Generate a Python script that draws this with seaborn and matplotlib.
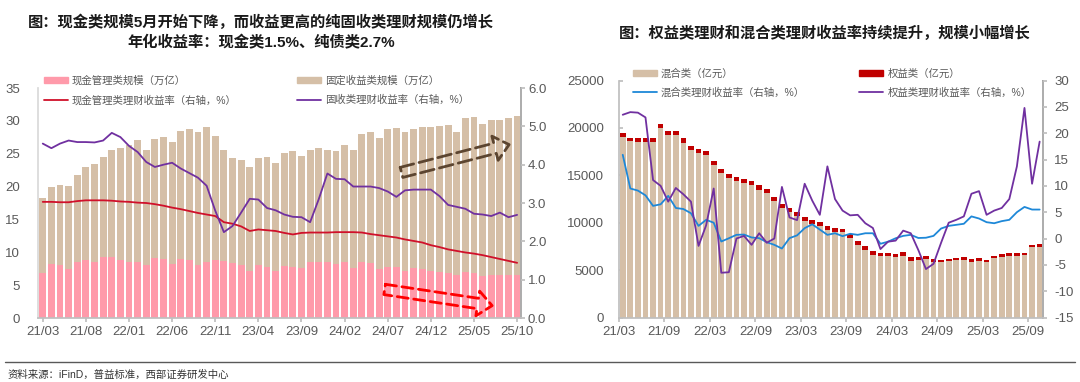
import numpy as np
import pandas as pd
import matplotlib
matplotlib.use("Agg")
import matplotlib.pyplot as plt
import seaborn as sns
from matplotlib.patches import Patch, FancyArrowPatch
from matplotlib.lines import Line2D

# 月份 21/03 - 25/10
months = pd.period_range("2021-03", "2025-10", freq="M").strftime("%y/%m").tolist()

# 左图：规模（万亿）与收益率（%）
cash_scale = [6.8, 8.2, 8.1, 7.4, 8.5, 8.9, 8.6, 9.3, 9.3, 8.8, 8.6, 8.6, 8.1, 9.2, 9.0, 8.2,
              9.0, 8.8, 8.1, 8.6, 8.9, 8.7, 8.3, 8.1, 7.2, 8.0, 7.7, 7.1, 7.9, 7.8, 7.6, 8.6,
              8.6, 8.5, 8.2, 8.5, 7.6, 8.6, 8.3, 7.4, 7.7, 7.7, 7.2, 7.6, 7.5, 7.2, 7.0, 6.9,
              6.6, 7.0, 6.9, 6.4, 6.5, 6.5, 6.5, 6.6]
fixed_scale = [18.2, 20.0, 20.2, 20.1, 21.8, 23.0, 23.4, 24.5, 25.5, 25.8, 26.4, 27.1, 25.6, 27.3,
               27.5, 26.8, 28.4, 28.8, 28.3, 29.1, 27.7, 25.5, 24.4, 24.1, 23.0, 24.4, 24.5, 23.6,
               25.1, 25.4, 24.6, 25.5, 25.8, 25.5, 25.4, 26.3, 25.5, 28.0, 28.3, 27.4, 28.8, 28.9,
               28.3, 28.8, 29.1, 29.0, 29.2, 29.4, 28.3, 30.4, 30.6, 29.5, 30.1, 30.2, 30.5, 30.8]
cash_yield = [3.03, 3.03, 3.02, 3.02, 3.05, 3.07, 3.07, 3.07, 3.06, 3.04, 3.03, 3.01, 3.00, 2.97,
              2.93, 2.88, 2.84, 2.79, 2.74, 2.70, 2.66, 2.50, 2.46, 2.39, 2.27, 2.31, 2.29, 2.27,
              2.22, 2.18, 2.22, 2.23, 2.23, 2.23, 2.24, 2.24, 2.24, 2.23, 2.19, 2.16, 2.13, 2.10,
              2.05, 2.01, 1.97, 1.90, 1.85, 1.79, 1.75, 1.71, 1.68, 1.64, 1.59, 1.54, 1.49, 1.44]
fixed_yield = [4.55, 4.43, 4.55, 4.63, 4.59, 4.59, 4.58, 4.63, 4.83, 4.72, 4.49, 4.33, 4.07, 3.94,
               4.00, 4.05, 3.90, 3.78, 3.66, 3.45, 2.80, 2.24, 2.40, 2.75, 3.11, 3.09, 2.87, 2.81,
               2.70, 2.64, 2.63, 2.50, 3.10, 3.77, 3.63, 3.62, 3.43, 3.43, 3.43, 3.39, 3.30, 3.16,
               3.33, 3.35, 3.35, 3.35, 3.18, 2.95, 2.90, 2.85, 2.72, 2.70, 2.66, 2.75, 2.63, 2.69]

# 右图：规模（亿元）与收益率（%）
mixed_scale = [19010, 18590, 18480, 18480, 18480, 19990, 19290, 19290, 18450, 17710, 17390, 17180,
               16090, 15220, 14690, 14440, 14230, 13990, 13500, 13150, 12300, 11530, 11140, 10720,
               10130, 9850, 9640, 9210, 9070, 8970, 8340, 7630, 7110, 6620, 6510, 6480, 6400, 6510,
               5990, 6060, 6200, 5840, 5840, 5920, 6020, 6090, 5840, 5990, 5810, 6230, 6410, 6510,
               6510, 6550, 7420, 7490]
equity_scale = [450, 390, 420, 420, 450, 450, 420, 420, 450, 420, 420, 420, 420, 420, 420, 420,
                420, 420, 450, 420, 420, 420, 420, 420, 450, 420, 420, 420, 420, 350, 420, 390,
                390, 350, 320, 330, 350, 350, 420, 350, 280, 320, 250, 250, 250, 280, 350, 280,
                280, 280, 280, 280, 280, 280, 250, 250]
mixed_yield = [15.9, 9.5, 9.1, 8.2, 6.2, 6.5, 8.1, 5.8, 5.6, 4.8, 2.4, 3.55, 3.0, -0.57, 0.05, 0.7,
               0.75, 0.2, 0.07, -0.7, -1.2, -1.9, 0.07, 0.6, 1.97, 2.7, 1.7, 0.7, 1.0, 0.45, 0.9,
               0.7, 1.0, 1.0, -1.0, -0.6, 0.05, 0.5, 0.7, 0.1, 0.15, 0.5, 1.9, 2.4, 2.6, 2.8, 4.2,
               3.8, 3.1, 2.9, 3.3, 3.55, 5.0, 6.0, 5.5, 5.5]
equity_yield = [23.5, 24.0, 23.9, 23.0, 11.1, 10.0, 7.0, 9.6, 8.4, 7.0, -1.4, 2.5, 9.5, -6.5, -6.4,
                0.0, 0.5, -1.2, 1.0, -0.8, 0.0, 9.8, 4.0, 3.5, 10.4, 7.2, 4.5, 13.7, 7.5, 5.3, 4.4,
                4.5, 2.9, 2.0, -2.0, -0.6, -0.4, 1.5, 1.0, -2.2, -5.8, -4.8, -0.8, 3.0, 3.55, 4.2,
                8.5, 9.0, 4.5, 5.3, 5.8, 7.5, 13.7, 24.8, 10.4, 18.4]

TAN = "#D5BFA7"
PINK = "#FF9AAA"
RED = "#D0102A"
PURPLE = "#7030A0"
BLUE = "#1E88D8"
DARKRED = "#C00000"
GREY = "#595959"

sns.set_theme(style="white")
plt.rcParams["font.family"] = ["Liberation Sans", "Noto Sans CJK SC"]
plt.rcParams["axes.unicode_minus"] = False

fig = plt.figure(figsize=(10.8, 3.82), dpi=100)
x = np.arange(len(months))


def style_axes(ax, ax2, left_color):
    for s in ["top"]:
        ax.spines[s].set_visible(False)
        ax2.spines[s].set_visible(False)
    ax.spines["left"].set_color(left_color)
    ax.spines["bottom"].set_color("#BFBFBF")
    ax2.spines["right"].set_color("#BFBFBF")
    for s in ["left", "bottom"]:
        ax2.spines[s].set_visible(False)
    ax.set_xlabel("")
    ax.set_ylabel("")
    ax2.set_ylabel("")


def dashed_arrow(ax, tail, tip, color, lw, dash):
    arr = FancyArrowPatch(tail, tip, transform=ax.transAxes,
                          arrowstyle="simple,head_length=1.4,head_width=2.4,tail_width=1.0",
                          mutation_scale=7.5, facecolor="none", edgecolor=color,
                          linewidth=lw, linestyle=(0, dash), zorder=6, clip_on=False)
    ax.add_patch(arr)


# ---------------- 左图 ----------------
axL = fig.add_axes([0.0352, 0.1675, 0.4472, 0.6021])
sns.barplot(x=months, y=fixed_scale, color=TAN, width=0.8, saturation=1, linewidth=0, ax=axL)
sns.barplot(x=months, y=cash_scale, color=PINK, width=0.8, saturation=1, linewidth=0, ax=axL)
axL.set_ylim(0, 35)
axL.set_yticks(range(0, 36, 5))
axL2 = axL.twinx()
sns.lineplot(x=x, y=cash_yield, color=RED, linewidth=1.3, ax=axL2)
sns.lineplot(x=x, y=fixed_yield, color=PURPLE, linewidth=1.3, ax=axL2)
axL2.set_ylim(0, 6)
axL2.set_yticks(range(0, 7))
axL2.set_yticklabels([f"{v:.1f}" for v in range(0, 7)])
axL.set_xlim(-0.55, 55.45)
axL.set_xticks(x[::5])
axL.set_xticklabels(months[::5])
style_axes(axL, axL2, "#D9D9D9")
axL.tick_params(axis="y", left=False, pad=7, labelsize=9.5, labelcolor=GREY)
axL.tick_params(axis="x", bottom=True, length=3, color="#BFBFBF", pad=3, labelsize=9.5, labelcolor=GREY)
axL2.tick_params(axis="y", right=True, length=3, color="#BFBFBF", pad=2, labelsize=9.5, labelcolor=GREY)

handles = [Patch(color=PINK), Line2D([], [], color=RED, lw=1.3),
           Patch(color=TAN), Line2D([], [], color=PURPLE, lw=1.3)]
labels = ["现金管理类规模（万亿）", "现金管理类理财收益率（右轴，%）",
          "固定收益类规模（万亿）", "固收类理财收益率（右轴，%）"]
axL2.legend(handles, labels, ncol=2, loc="upper left", bbox_to_anchor=(0.012, 1.055),
            frameon=False, fontsize=7.5, labelcolor=GREY, handlelength=2.3, handleheight=0.5,
            handletextpad=0.4, labelspacing=0.9, columnspacing=5.8, borderpad=0, borderaxespad=0)

dashed_arrow(axL2, (0.747, 0.630), (0.981, 0.757), "#5C4530", 2.0, (5, 2))
dashed_arrow(axL2, (0.712, 0.126), (0.946, 0.052), "#FF0000", 2.0, (4, 2))

# ---------------- 右图 ----------------
total_scale = np.array(mixed_scale) + np.array(equity_scale)
axR = fig.add_axes([0.5731, 0.1688, 0.3929, 0.6204])
sns.barplot(x=months, y=total_scale, color=DARKRED, width=0.75, saturation=1, linewidth=0, ax=axR)
sns.barplot(x=months, y=mixed_scale, color=TAN, width=0.75, saturation=1, linewidth=0, ax=axR)
axR.set_ylim(0, 25000)
axR.set_yticks(range(0, 25001, 5000))
axR2 = axR.twinx()
sns.lineplot(x=x, y=mixed_yield, color=BLUE, linewidth=1.3, ax=axR2)
sns.lineplot(x=x, y=equity_yield, color=PURPLE, linewidth=1.3, ax=axR2)
axR2.set_ylim(-15, 30)
axR2.set_yticks(range(-15, 31, 5))
axR.set_xlim(-0.5, 55.48)
axR.set_xticks(x[::6] - 0.5)
axR.set_xticklabels(months[::6])
style_axes(axR, axR2, "#BFBFBF")
axR.tick_params(axis="y", left=True, direction="in", length=3, color="#BFBFBF", pad=10.5,
                labelsize=9.5, labelcolor=GREY)
axR.tick_params(axis="x", bottom=True, length=3, color="#BFBFBF", pad=3, labelsize=9.5, labelcolor=GREY)
axR2.tick_params(axis="y", right=True, length=3, color="#BFBFBF", pad=5, labelsize=9.5, labelcolor=GREY)

handles = [Patch(color=TAN), Line2D([], [], color=BLUE, lw=1.3),
           Patch(color=DARKRED), Line2D([], [], color=PURPLE, lw=1.3)]
labels = ["混合类（亿元）", "混合类理财收益率（右轴，%）",
          "权益类（亿元）", "权益类理财收益率（右轴，%）"]
axR2.legend(handles, labels, ncol=2, loc="upper left", bbox_to_anchor=(0.033, 1.05),
            frameon=False, fontsize=7.5, labelcolor=GREY, handlelength=2.3, handleheight=0.5,
            handletextpad=0.4, labelspacing=0.8, columnspacing=5.2, borderpad=0, borderaxespad=0)

# ---------------- 标题与来源 ----------------
fig.text(0.2417, 0.941, "图：现金类规模5月开始下降，而收益更高的纯固收类理财规模仍增长",
         ha="center", va="center", fontsize=11, fontweight="bold", color="#1A1A1A")
fig.text(0.2417, 0.887, "年化收益率：现金类1.5%、纯债类2.7%",
         ha="center", va="center", fontsize=11, fontweight="bold", color="#1A1A1A")
fig.text(0.7635, 0.912, "图：权益类理财和混合类理财收益率持续提升，规模小幅增长",
         ha="center", va="center", fontsize=11, fontweight="bold", color="#1A1A1A")
fig.add_artist(Line2D([0.005, 0.995], [0.053, 0.053], color="#595959", lw=1.0))
fig.text(0.007, 0.019, "资料来源：iFinD，普益标准，西部证券研发中心",
         ha="left", va="center", fontsize=7.5, color="#333333")

fig.savefig("out.png", dpi=100)
